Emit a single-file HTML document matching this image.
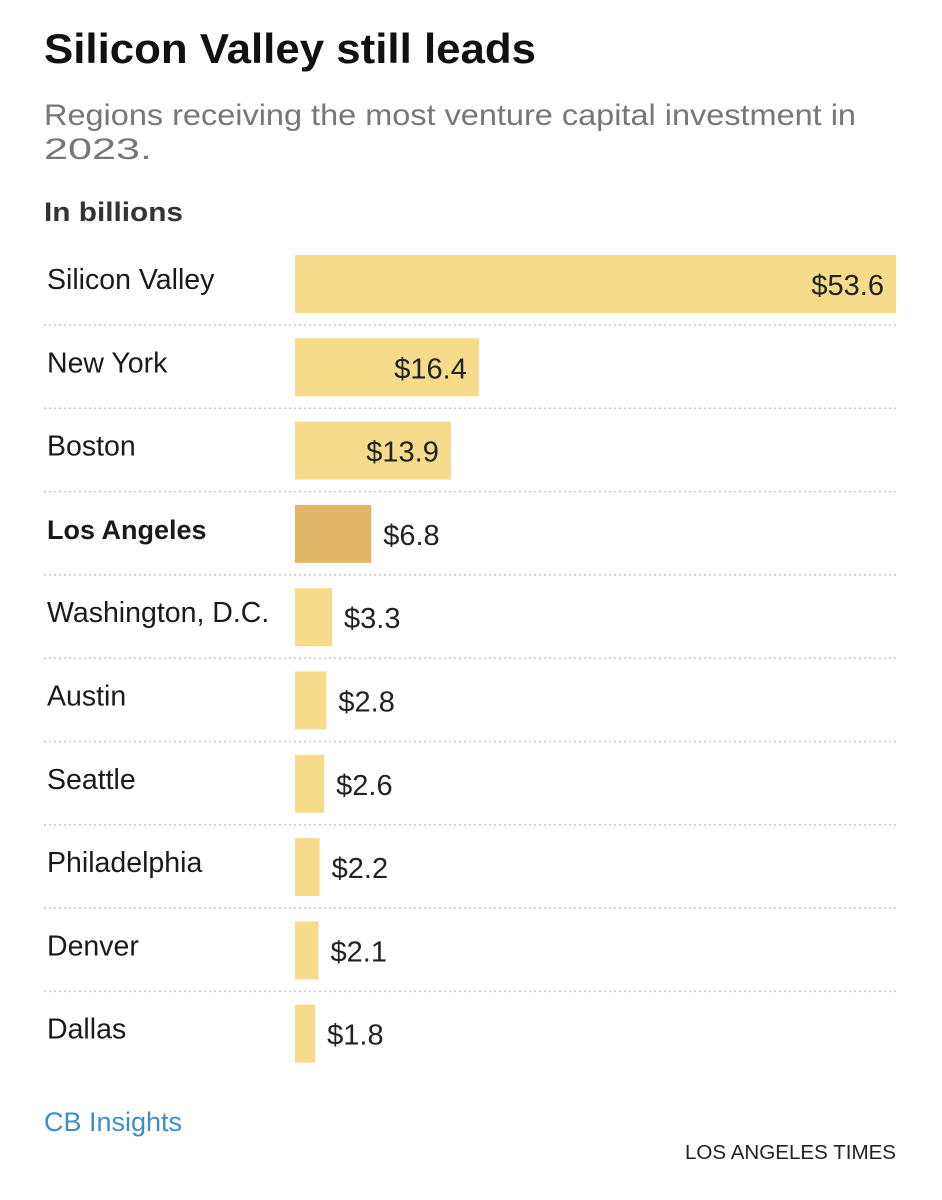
<!DOCTYPE html>
<html><head><meta charset="utf-8"><style>
html,body{margin:0;padding:0;background:#fff;}
svg{display:block;font-family:"Liberation Sans",sans-serif;}
</style></head><body>
<svg id="chart" width="942" height="1200" viewBox="0 0 942 1200">
<text x="44" y="63" font-size="42" font-weight="bold" fill="#111" textLength="492" lengthAdjust="spacingAndGlyphs">Silicon Valley still leads</text>
<text x="44" y="125" font-size="30" fill="#777" textLength="812" lengthAdjust="spacingAndGlyphs">Regions receiving the most venture capital investment in</text>
<text x="44" y="159" font-size="30" fill="#777" textLength="108" lengthAdjust="spacingAndGlyphs">2023.</text>
<text x="44" y="221" font-size="27" font-weight="bold" fill="#333" textLength="139" lengthAdjust="spacingAndGlyphs">In billions</text>
<g id="rows"></g>
<text x="44" y="1131" font-size="27" fill="#3d8ec6">CB Insights</text>
<text x="896" y="1159" font-size="20" fill="#222" text-anchor="end" textLength="211" lengthAdjust="spacingAndGlyphs">LOS ANGELES TIMES</text>
</svg>
<script>
const categories = ["Silicon Valley","New York","Boston","Los Angeles","Washington, D.C.","Austin","Seattle","Philadelphia","Denver","Dallas"];
const values = [53.6,16.4,13.9,6.8,3.3,2.8,2.6,2.2,2.1,1.8];
const valueLabels = ["$53.6","$16.4","$13.9","$6.8","$3.3","$2.8","$2.6","$2.2","$2.1","$1.8"];
const highlight = "Los Angeles";

const NS="http://www.w3.org/2000/svg";
const x0=295, x1=896, maxV=53.6;
const xScale=v=>x0+(v/maxV)*(x1-x0);
const rowTop=i=>255+i*83.3;
const barH=58;
const g=document.getElementById('rows');
function mk(tag,attrs){const e=document.createElementNS(NS,tag);for(const k in attrs)e.setAttribute(k,attrs[k]);return e;}
categories.forEach((c,i)=>{
  const y=rowTop(i);
  const hl=c===highlight;
  const lab=mk('text',{x:47,y:y+34,'font-size':hl?27:28.5,fill:'#1a1a1a','font-weight':hl?'bold':'normal'});
  
  
  lab.textContent=c;g.appendChild(lab);
  const w=xScale(values[i])-x0;
  const r=mk('rect',{x:x0,y:y,width:w,height:barH,fill:hl?'#e2b567':'#f6dc8a'});
  
  
  g.appendChild(r);
  const inside=w>120;
  const t=mk('text',{x:inside?x0+w-12:x0+w+12,y:y+40,'font-size':29,fill:'#222','text-anchor':inside?'end':'start'});
  
  
  t.textContent=valueLabels[i];g.appendChild(t);
  if(i<categories.length-1){
    const l=mk('line',{x1:44,x2:896,y1:y+70,y2:y+70,stroke:'#c8c8c8','stroke-width':1.5,'stroke-dasharray':'2,3'});
    
    
    g.appendChild(l);
  }
});
</script>
</body></html>
